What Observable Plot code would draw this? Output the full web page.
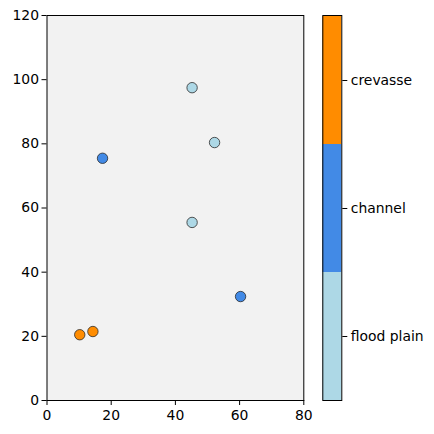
<!DOCTYPE html>
<html>
<head>
<meta charset="utf-8">
<script src="https://cdn.jsdelivr.net/npm/d3@7"></script>
<script src="https://cdn.jsdelivr.net/npm/@observablehq/plot@0.6"></script>
<style>
  body { margin: 0; background: #fff; }
  #chart { position: relative; width: 434px; height: 434px; font-family: "DejaVu Sans", sans-serif; color: #000; }
  #chart svg { position: absolute; top: 0; overflow: visible; }
</style>
</head>
<body>
<div id="chart"></div>
<script>
// Facies categories (colour bar order: bottom to top) and their colours
const faciesNames = ["flood plain", "channel", "crevasse"];
const faciesColors = ["#add8e6", "#428ae6", "#ff8c00"];

// Sample locations and their facies
const xValues = [10.2, 14.3, 17.3, 45.2, 52.2, 45.2, 60.3];
const yValues = [20.5, 21.5, 75.5, 97.5, 80.4, 55.5, 32.4];
const facies  = ["crevasse", "crevasse", "channel", "flood plain", "flood plain", "flood plain", "channel"];

const xTicks = [0, 20, 40, 60, 80];
const yTicks = [0, 20, 40, 60, 80, 100, 120];

const samples = xValues.map((x, i) => ({x, y: yValues[i], facies: facies[i]}));

const colorScale = {type: "ordinal", domain: faciesNames, range: faciesColors};
const font = {fontFamily: "DejaVu Sans, sans-serif", fontSize: "13.9px", background: "transparent", color: "#000"};

const main = Plot.plot({
  width: 310,
  height: 434,
  marginLeft: 46.5,
  marginRight: 6.7,
  marginTop: 15,
  marginBottom: 34,
  style: {...font, left: "0px"},
  x: {domain: [0, 80], ticks: xTicks, tickSize: 5, tickPadding: 5, label: null},
  y: {domain: [0, 120], ticks: yTicks, tickSize: 5, tickPadding: 3, label: null},
  color: colorScale,
  marks: [
    Plot.frame({fill: "#f2f2f2"}),
    Plot.dot(samples, {x: "x", y: "y", fill: "facies", r: 5.2, stroke: "#2b2b2b", strokeWidth: 0.8}),
    Plot.frame({stroke: "#000", strokeWidth: 1})
  ]
});

const colorbar = Plot.plot({
  width: 124,
  height: 434,
  marginLeft: 12.3,
  marginRight: 124 - 12.3 - 19,
  marginTop: 15,
  marginBottom: 34,
  style: {...font, left: "310px"},
  y: {type: "band", domain: faciesNames.slice().reverse(), padding: 0, axis: "right", tickSize: 5, tickPadding: 4, label: null},
  color: colorScale,
  marks: [
    Plot.cell(faciesNames, {y: d => d, fill: d => d}),
    Plot.frame({stroke: "#000", strokeWidth: 1})
  ]
});

document.getElementById("chart").append(main, colorbar);
</script>
</body>
</html>
